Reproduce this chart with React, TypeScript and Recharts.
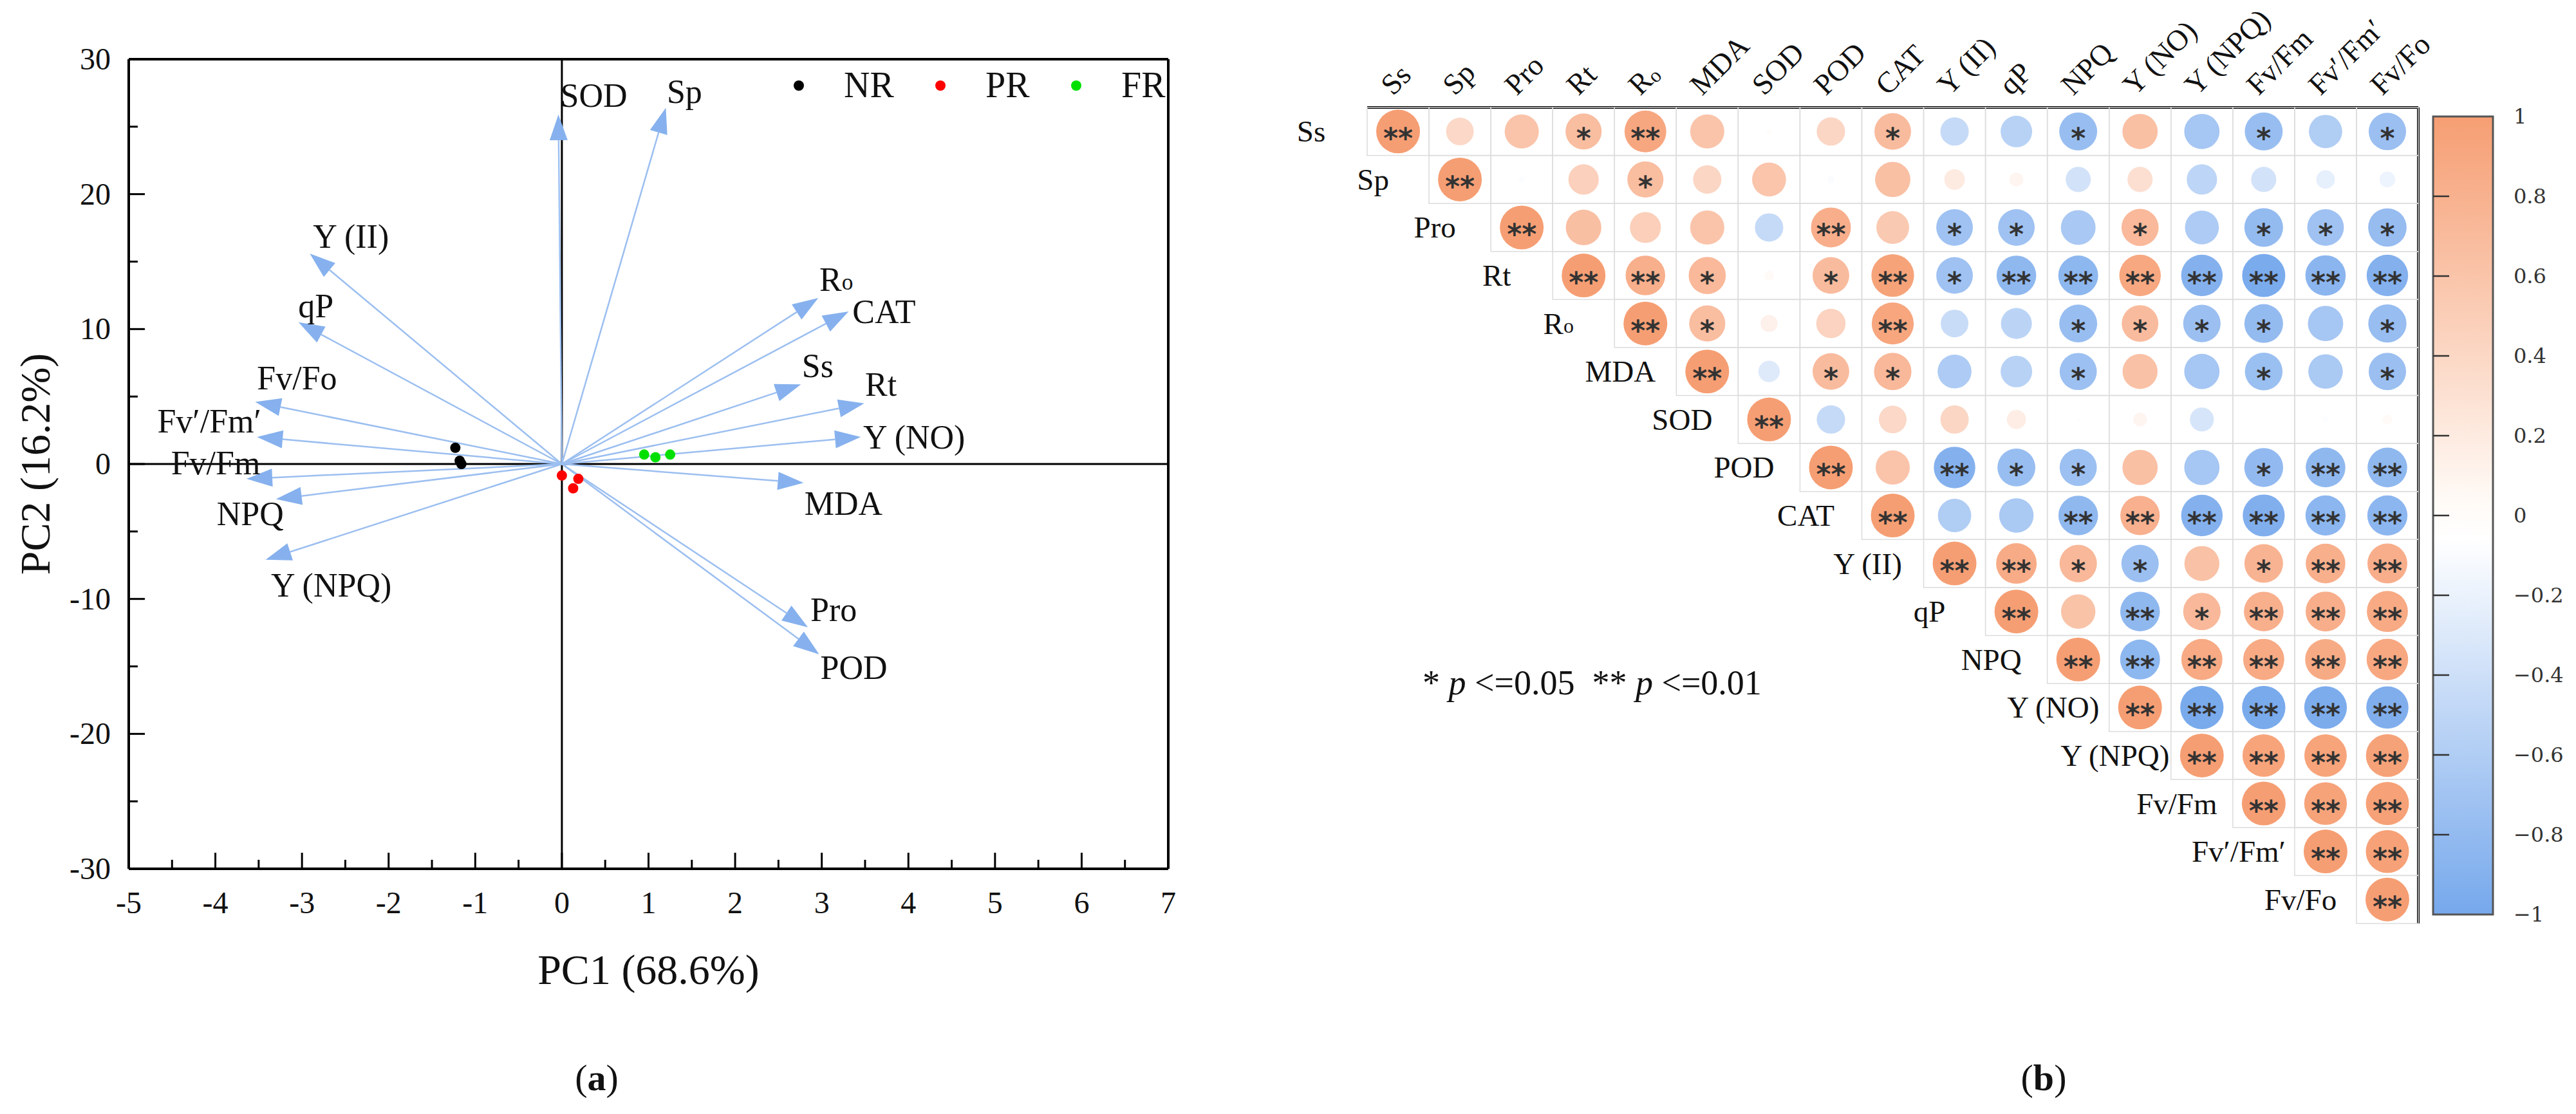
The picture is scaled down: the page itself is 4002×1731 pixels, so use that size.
import React from 'react';
import { ScatterChart, Scatter, BarChart, Bar, XAxis, YAxis, ReferenceLine, Legend } from 'recharts';

const SERIF = '"Liberation Serif", "Times New Roman", serif';
const ARROW = '#9cbff0';
const ARROW_HEAD = '#86b1ee';

// ---------- (a) PCA biplot ----------
const loadingNames = ['SOD', 'Sp', 'Y (II)', 'qP', 'Fv/Fo', 'Fv′/Fm′', 'Fv/Fm', 'NPQ', 'Y (NPQ)', 'Ro', 'CAT', 'Ss', 'Rt', 'Y (NO)', 'MDA', 'Pro', 'POD'];
const loadingPC1 = [-0.04, 1.2, -2.91, -3.04, -3.54, -3.52, -3.64, -3.3, -3.42, 2.96, 3.31, 2.76, 3.49, 3.45, 2.79, 2.84, 2.97];
const loadingPC2 = [25.9, 26.4, 15.6, 10.5, 4.6, 2.0, -1.1, -2.6, -7.1, 12.3, 11.3, 5.9, 4.5, 2.0, -1.4, -12.1, -14.1];
// label position relative to arrow tip, px
const labelDx = [55, 29, 64, 27, 65, -74, -48, -40, 102, 28, 55, 26, 26, 83, 62, 40, 54];
const labelDy = [-29, -25, -26, -25, -37, -25, -25, 23, 40, -29, 0, -29, -29, 0, 32, -27, 21];

const groupNames = ['NR', 'PR', 'FR'];
const groupColors = ['#000000', '#ff0000', '#00e000'];
const nrPC1 = [-1.23, -1.18, -1.16];
const nrPC2 = [1.2, 0.24, 0.0];
const prPC1 = [0.0, 0.13, 0.19];
const prPC2 = [-0.85, -1.8, -1.1];
const frPC1 = [0.95, 1.08, 1.25];
const frPC2 = [0.7, 0.5, 0.7];

const pcaXTicks = [-5, -4.5, -4, -3.5, -3, -2.5, -2, -1.5, -1, -0.5, 0, 0.5, 1, 1.5, 2, 2.5, 3, 3.5, 4, 4.5, 5, 5.5, 6, 6.5, 7];
const pcaYTicks = [-30, -25, -20, -15, -10, -5, 0, 5, 10, 15, 20, 25, 30];

const legendDotX = [1241, 1461, 1672];
const legendTextX = [1311, 1531, 1742];

// ---------- (b) correlation matrix ----------
const heatVars = ['Ss', 'Sp', 'Pro', 'Rt', 'Ro', 'MDA', 'SOD', 'POD', 'CAT', 'Y (II)', 'qP', 'NPQ', 'Y (NO)', 'Y (NPQ)', 'Fv/Fm', 'Fv′/Fm′', 'Fv/Fo'];
// each row starts at the diagonal
const corrSs = [1, 0.4, 0.61, 0.68, 0.91, 0.61, 0.02, 0.42, 0.7, -0.42, -0.52, -0.75, 0.65, -0.65, -0.75, -0.58, -0.73];
const corrSp = [1, -0.02, 0.48, 0.68, 0.42, 0.6, -0.03, 0.65, 0.22, 0.1, -0.33, 0.33, -0.48, -0.33, -0.18, -0.13];
const corrPro = [1, 0.66, 0.5, 0.61, -0.42, 0.83, 0.56, -0.7, -0.7, -0.63, 0.72, -0.6, -0.78, -0.7, -0.77];
const corrRt = [1, 0.82, 0.72, 0.05, 0.7, 0.95, -0.7, -0.82, -0.83, 0.9, -0.9, -0.97, -0.85, -0.9];
const corrRo = [1, 0.68, 0.15, 0.45, 0.92, -0.4, -0.5, -0.75, 0.7, -0.73, -0.78, -0.65, -0.76];
const corrMDA = [1, -0.24, 0.7, 0.73, -0.6, -0.52, -0.72, 0.64, -0.65, -0.74, -0.62, -0.73];
const corrSOD = [1, -0.42, 0.4, 0.42, 0.19, 0.01, 0.1, -0.3, -0.01, -0.02, 0.05];
const corrPOD = [1, 0.61, -0.9, -0.75, -0.72, 0.65, -0.65, -0.79, -0.82, -0.82];
const corrCAT = [1, -0.58, -0.62, -0.82, 0.81, -0.9, -0.92, -0.84, -0.84];
const corrYII = [1, 0.86, 0.73, -0.73, 0.64, 0.78, 0.82, 0.83];
const corrQP = [1, 0.62, -0.82, 0.73, 0.82, 0.83, 0.88];
const corrNPQ = [1, -0.83, 0.88, 0.88, 0.87, 0.9];
const corrYNO = [1, -0.98, -0.98, -0.95, -0.93];
const corrYNPQ = [1, 0.94, 0.94, 0.96];
const corrFvFm = [1, 0.95, 0.97];
const corrFvFm2 = [1, 0.97];
const corrFvFo = [1];

// 1 = p<=0.05, 2 = p<=0.01
const sigSs = [2, 0, 0, 1, 2, 0, 0, 0, 1, 0, 0, 1, 0, 0, 1, 0, 1];
const sigSp = [2, 0, 0, 1, 0, 0, 0, 0, 0, 0, 0, 0, 0, 0, 0, 0];
const sigPro = [2, 0, 0, 0, 0, 2, 0, 1, 1, 0, 1, 0, 1, 1, 1];
const sigRt = [2, 2, 1, 0, 1, 2, 1, 2, 2, 2, 2, 2, 2, 2];
const sigRo = [2, 1, 0, 0, 2, 0, 0, 1, 1, 1, 1, 0, 1];
const sigMDA = [2, 0, 1, 1, 0, 0, 1, 0, 0, 1, 0, 1];
const sigSOD = [2, 0, 0, 0, 0, 0, 0, 0, 0, 0, 0];
const sigPOD = [2, 0, 2, 1, 1, 0, 0, 1, 2, 2];
const sigCAT = [2, 0, 0, 2, 2, 2, 2, 2, 2];
const sigYII = [2, 2, 1, 1, 0, 1, 2, 2];
const sigQP = [2, 0, 2, 1, 2, 2, 2];
const sigNPQ = [2, 2, 2, 2, 2, 2];
const sigYNO = [2, 2, 2, 2, 2];
const sigYNPQ = [2, 2, 2, 2];
const sigFvFm = [2, 2, 2];
const sigFvFm2 = [2, 2];
const sigFvFo = [2];

const corrRows = [corrSs, corrSp, corrPro, corrRt, corrRo, corrMDA, corrSOD, corrPOD, corrCAT, corrYII, corrQP, corrNPQ, corrYNO, corrYNPQ, corrFvFm, corrFvFm2, corrFvFo];
const sigRows = [sigSs, sigSp, sigPro, sigRt, sigRo, sigMDA, sigSOD, sigPOD, sigCAT, sigYII, sigQP, sigNPQ, sigYNO, sigYNPQ, sigFvFm, sigFvFm2, sigFvFo];

const colorbarTicks = [1, 0.8, 0.6, 0.4, 0.2, 0, -0.2, -0.4, -0.6, -0.8, -1];
const colorbarRange = [{ name: 'r', span: [-1, 1] }];

const ORANGE = [246, 158, 115];
const BLUE = [118, 168, 236];

const corrColor = (r: number) => {
  const t = Math.min(1, Math.abs(r));
  const end = r >= 0 ? ORANGE : BLUE;
  const c = end.map((e) => Math.round(255 + (e - 255) * t));
  return `rgb(${c[0]},${c[1]},${c[2]})`;
};

const nameNode = (n: string) =>
  n === 'Ro' ? (
    <>
      R<tspan fontSize="0.68em" dy="0.1em">o</tspan>
    </>
  ) : (
    n
  );

// ---------- PCA chart ----------
const loadings = loadingNames.map((name, i) => ({ name, x: loadingPC1[i], y: loadingPC2[i], dx: labelDx[i], dy: labelDy[i] }));
const groups = [
  { name: groupNames[0], color: groupColors[0], data: nrPC1.map((x, i) => ({ x, y: nrPC2[i] })) },
  { name: groupNames[1], color: groupColors[1], data: prPC1.map((x, i) => ({ x, y: prPC2[i] })) },
  { name: groupNames[2], color: groupColors[2], data: frPC1.map((x, i) => ({ x, y: frPC2[i] })) },
];

const arrowShape = (name: string, dx: number, dy: number) => (p: any) => {
  const { x1, y1, x2, y2 } = p;
  const ang = Math.atan2(y2 - y1, x2 - x1);
  const L = 40;
  const W = 14;
  const bx = x2 - L * Math.cos(ang);
  const by = y2 - L * Math.sin(ang);
  const px = -Math.sin(ang) * W;
  const py = Math.cos(ang) * W;
  return (
    <g>
      <line x1={x1} y1={y1} x2={bx} y2={by} stroke={ARROW} strokeWidth={2.5} />
      <polygon points={`${x2},${y2} ${bx + px},${by + py} ${bx - px},${by - py}`} fill={ARROW_HEAD} />
      <text x={x2 + dx} y={y2 + dy} textAnchor="middle" dominantBaseline="central" fontSize={52} fontFamily={SERIF} fill="#111">
        {nameNode(name)}
      </text>
    </g>
  );
};

const PcaXTick = ({ x, y, payload }: any) => {
  const major = Number.isInteger(payload.value);
  const axisY = y - 30;
  return (
    <g>
      <line x1={x} x2={x} y1={axisY} y2={axisY - (major ? 25 : 14)} stroke="#000" strokeWidth={3} />
      {major && (
        <text x={x} y={y + 39} textAnchor="middle" fontSize={48} fontFamily={SERIF} fill="#111">
          {payload.value}
        </text>
      )}
    </g>
  );
};

const PcaYTick = ({ x, y, payload }: any) => {
  const major = payload.value % 10 === 0;
  const axisX = x + 28;
  return (
    <g>
      <line x1={axisX} x2={axisX + (major ? 25 : 14)} y1={y} y2={y} stroke="#000" strokeWidth={3} />
      {major && (
        <text x={x} y={y + 16} textAnchor="end" fontSize={48} fontFamily={SERIF} fill="#111">
          {payload.value}
        </text>
      )}
    </g>
  );
};

const PcaLegend = ({ payload }: any) => (
  <div style={{ position: 'relative', width: 640, height: 80, fontFamily: SERIF, fontSize: 56, color: '#111' }}>
    {(payload || []).map((e: any) => {
      const i = groupNames.indexOf(e.value);
      return (
        <React.Fragment key={e.value}>
          <span style={{ position: 'absolute', left: legendDotX[i] - 1200 - 8, top: 35, width: 16, height: 16, borderRadius: 8, background: groupColors[i] }} />
          <span style={{ position: 'absolute', left: legendTextX[i] - 1200, top: 10, lineHeight: '64px', whiteSpace: 'nowrap' }}>{e.value}</span>
        </React.Fragment>
      );
    })}
  </div>
);

const PcaChart = () => (
  <ScatterChart width={1900} height={1731} margin={{ top: 91, right: 84, bottom: 0, left: 0 }}>
    <XAxis
      type="number"
      dataKey="x"
      domain={[-5, 7]}
      ticks={pcaXTicks}
      interval={0}
      height={381}
      tickSize={0}
      tickMargin={30}
      tickLine={false}
      axisLine={{ stroke: '#000', strokeWidth: 4 }}
      tick={<PcaXTick />}
      label={(p: any) => {
        const vb = p.viewBox;
        return (
          <text x={vb.x + vb.width / 2} y={vb.y + 179} textAnchor="middle" fontSize={66} fontFamily={SERIF} fill="#111">
            PC1 (68.6%)
          </text>
        );
      }}
    />
    <YAxis
      type="number"
      dataKey="y"
      domain={[-30, 30]}
      ticks={pcaYTicks}
      interval={0}
      width={200}
      tickSize={0}
      tickMargin={28}
      tickLine={false}
      axisLine={{ stroke: '#000', strokeWidth: 4 }}
      tick={<PcaYTick />}
      label={(p: any) => {
        const vb = p.viewBox;
        const cx = vb.x + 54;
        const cy = vb.y + vb.height / 2;
        return (
          <text x={cx} y={cy} transform={`rotate(-90 ${cx} ${cy})`} textAnchor="middle" dominantBaseline="central" fontSize={66} fontFamily={SERIF} fill="#111">
            PC2 (16.2%)
          </text>
        );
      }}
    />
    <XAxis xAxisId="top" orientation="top" type="number" domain={[-5, 7]} height={1} tick={false} tickLine={false} axisLine={{ stroke: '#000', strokeWidth: 4 }} />
    <YAxis yAxisId="right" orientation="right" type="number" domain={[-30, 30]} width={1} tick={false} tickLine={false} axisLine={{ stroke: '#000', strokeWidth: 4 }} />
    <ReferenceLine x={0} stroke="#000" strokeWidth={3} />
    <ReferenceLine y={0} stroke="#000" strokeWidth={3} />
    {loadings.map((l) => (
      <ReferenceLine
        key={l.name}
        segment={[
          { x: 0, y: 0 },
          { x: l.x, y: l.y },
        ]}
        shape={arrowShape(l.name, l.dx, l.dy)}
      />
    ))}
    {groups.map((g) => (
      <Scatter
        key={g.name}
        name={g.name}
        data={g.data}
        fill={g.color}
        legendType="circle"
        isAnimationActive={false}
        shape={(p: any) => <circle cx={p.cx} cy={p.cy} r={8} fill={g.color} />}
      />
    ))}
    <Legend layout="horizontal" verticalAlign="middle" align="center" wrapperStyle={{ left: 1200, top: 90, width: 640, height: 80 }} content={<PcaLegend />} />
  </ScatterChart>
);

// ---------- heat map ----------
const heatPoints = corrRows.flatMap((vals, i) => vals.map((r, k) => ({ col: i + k, row: i, r, sig: sigRows[i][k] })));
const heatIdx = heatVars.map((_, i) => i);

const HEAT_W = 1900;
const HEAT_H = 1731;
const HEAT_M = { top: 166, right: 42, bottom: 296, left: 224 };
const CELL_W = (HEAT_W - HEAT_M.left - HEAT_M.right - 1) / heatVars.length;
const CELL_H = (HEAT_H - HEAT_M.top - HEAT_M.bottom - 1) / heatVars.length;
const MAX_R = 34;

const HeatCell = (p: any) => {
  const { cx, cy, payload } = p;
  const { r, sig, row, col } = payload;
  const rad = MAX_R * Math.sqrt(Math.abs(r));
  return (
    <g>
      <rect x={cx - CELL_W / 2} y={cy - CELL_H / 2} width={CELL_W} height={CELL_H} fill="none" stroke="#dcdcdc" strokeWidth={1.5} />
      <circle cx={cx} cy={cy} r={rad} fill={corrColor(r)} />
      {sig > 0 && (
        <text x={cx} y={cy + 26} textAnchor="middle" fontSize={44} fontWeight="bold" fontFamily='"DejaVu Sans", sans-serif' fill="#333">
          {'*'.repeat(sig)}
        </text>
      )}
      {row === col && (
        <text x={cx - 135} y={cy} textAnchor="middle" dominantBaseline="central" fontSize={47} fontFamily={SERIF} fill="#111">
          {nameNode(heatVars[row])}
        </text>
      )}
    </g>
  );
};

const HeatColTick = ({ x, y, payload }: any) => {
  const tx = x - 8;
  const ty = y - 3;
  return (
    <text x={tx} y={ty} transform={`rotate(-45 ${tx} ${ty})`} textAnchor="start" fontSize={46} fontFamily={SERIF} fill="#111">
      {nameNode(heatVars[payload.value])}
    </text>
  );
};

const HeatChart = () => (
  <ScatterChart width={HEAT_W} height={HEAT_H} margin={HEAT_M}>
    <XAxis
      type="number"
      dataKey="col"
      orientation="top"
      domain={[-0.5, 16.5]}
      ticks={heatIdx}
      interval={0}
      height={1}
      tickSize={0}
      tickMargin={14}
      tickLine={false}
      axisLine={{ stroke: '#000', strokeWidth: 4 }}
      tick={<HeatColTick />}
    />
    <YAxis type="number" dataKey="row" orientation="right" domain={[-0.5, 16.5]} reversed width={1} tick={false} tickLine={false} axisLine={{ stroke: '#000', strokeWidth: 4 }} />
    <Scatter data={heatPoints} shape={HeatCell} isAnimationActive={false} />
  </ScatterChart>
);

// ---------- colour bar ----------
const fmtBar = (v: number) => (v < 0 ? `−${Math.abs(v)}` : String(v));
const BAR_W = 93;
const BAR_TICK_MARGIN = 32;

const BarTick = ({ x, y, payload }: any) => {
  const left = x - BAR_TICK_MARGIN - BAR_W;
  return (
    <g>
      {Math.abs(payload.value) < 1 && <line x1={left} x2={left + 25} y1={y} y2={y} stroke="#333" strokeWidth={2.5} />}
      <text x={x} y={y} dominantBaseline="central" textAnchor="start" fontSize={32} fontFamily='"DejaVu Serif", serif' fill="#333">
        {fmtBar(payload.value)}
      </text>
    </g>
  );
};

const ColorBar = () => (
  <BarChart width={302} height={1731} data={colorbarRange} margin={{ top: 181, right: 0, bottom: 310, left: 80 }} barCategoryGap={0}>
    <defs>
      <linearGradient id="cbGrad" x1="0" y1="0" x2="0" y2="1">
        <stop offset="0%" stopColor={`rgb(${ORANGE.join(',')})`} />
        <stop offset="48%" stopColor="#fffaf6" />
        <stop offset="53%" stopColor="#ffffff" />
        <stop offset="100%" stopColor={`rgb(${BLUE.join(',')})`} />
      </linearGradient>
    </defs>
    <XAxis dataKey="name" hide />
    <YAxis
      type="number"
      orientation="right"
      domain={[-1, 1]}
      ticks={colorbarTicks}
      interval={0}
      width={129}
      axisLine={false}
      tickLine={false}
      tickSize={0}
      tickMargin={BAR_TICK_MARGIN}
      tick={<BarTick />}
    />
    <Bar dataKey="span" fill="url(#cbGrad)" stroke="#555" strokeWidth={3} isAnimationActive={false} />
  </BarChart>
);

export default function App() {
  return (
    <div style={{ position: 'absolute', left: 0, top: 0, width: 4002, height: 1731, background: '#fff', overflow: 'hidden', fontFamily: SERIF }}>
      <div style={{ position: 'absolute', left: 0, top: 0 }}>
        <PcaChart />
      </div>
      <div style={{ position: 'absolute', left: 1900, top: 0 }}>
        <HeatChart />
      </div>
      <div style={{ position: 'absolute', left: 3700, top: 0 }}>
        <ColorBar />
      </div>
      <div style={{ position: 'absolute', left: 2210, top: 1028, fontSize: 54, color: '#111', whiteSpace: 'pre', lineHeight: '66px' }}>
        {'* '}
        <i>p</i>
        {' <=0.05  ** '}
        <i>p</i>
        {' <=0.01'}
      </div>
      <div style={{ position: 'absolute', left: 827, top: 1640, width: 200, textAlign: 'center', fontSize: 58, color: '#111', lineHeight: '70px' }}>
        (<b>a</b>)
      </div>
      <div style={{ position: 'absolute', left: 3075, top: 1640, width: 200, textAlign: 'center', fontSize: 58, color: '#111', lineHeight: '70px' }}>
        (<b>b</b>)
      </div>
    </div>
  );
}
